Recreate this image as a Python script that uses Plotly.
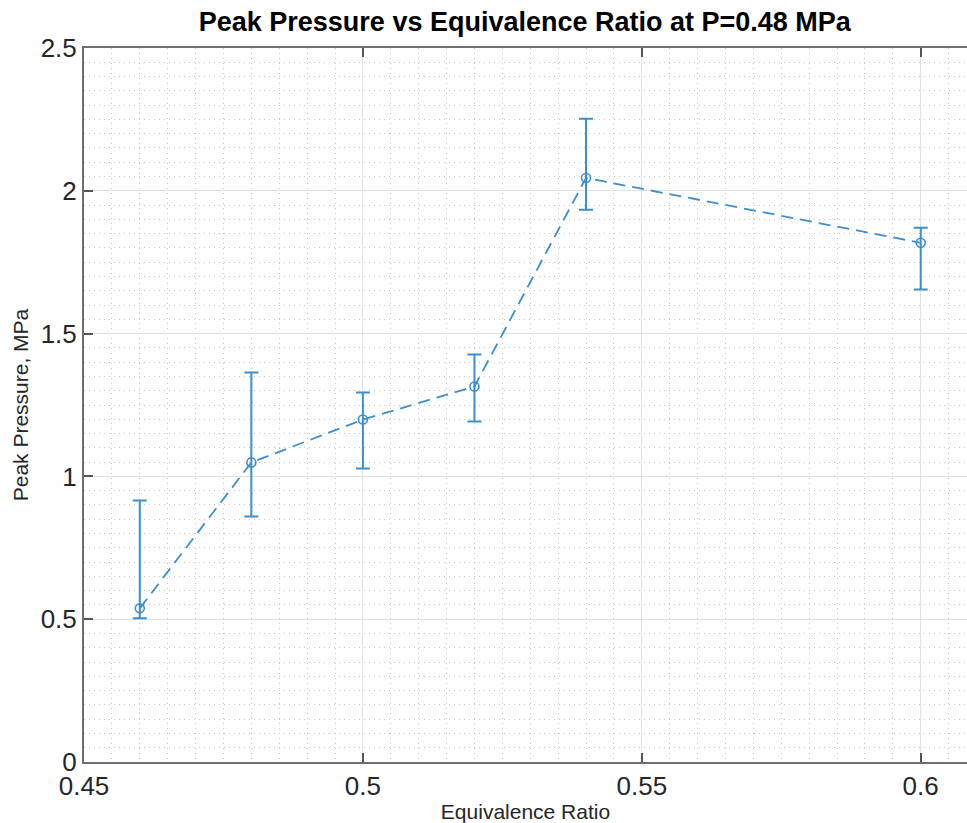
import plotly.graph_objects as go

phi = [0.46, 0.48, 0.50, 0.52, 0.54, 0.60]
peak = [0.538, 1.049, 1.199, 1.315, 2.045, 1.818]
err_plus = [0.378, 0.315, 0.095, 0.112, 0.207, 0.053]
err_minus = [0.035, 0.189, 0.171, 0.123, 0.111, 0.164]

color = "#3a8fd0"

fig = go.Figure()
fig.add_trace(go.Scatter(
    x=phi, y=peak, mode="lines+markers",
    line=dict(color=color, width=1.8, dash="12px,7px"),
    marker=dict(symbol="circle-open", size=9, color=color, line=dict(width=1.6, color=color)),
    error_y=dict(type="data", symmetric=False, array=err_plus, arrayminus=err_minus,
                 color=color, thickness=2, width=7),
    showlegend=False,
))

axis_common = dict(
    showline=True, linecolor="#6e6e6e", linewidth=2,
    ticks="inside", ticklen=9, tickwidth=1.5, tickcolor="#555555",
    showgrid=True, gridcolor="#e0e0e0", gridwidth=1,
    zeroline=False,
    tickfont=dict(family="Liberation Sans, Arial, sans-serif", size=26, color="#262626"),
)

fig.update_xaxes(
    range=[0.45, 0.6083], dtick=0.05, tick0=0.45,
    mirror="ticks",
    minor=dict(dtick=0.005, tick0=0.45, showgrid=True, griddash="1px,4px", gridcolor="#c6c6c6",
               gridwidth=1),
    title=dict(text="Equivalence Ratio", standoff=4,
               font=dict(family="Liberation Sans, Arial, sans-serif", size=21, color="#262626")),
    **axis_common,
)
fig.update_yaxes(
    range=[0, 2.5], dtick=0.5, tick0=0,
    mirror=False,
    minor=dict(dtick=0.05, tick0=0, showgrid=True, griddash="1px,4px", gridcolor="#c6c6c6",
               gridwidth=1),
    title=dict(text="Peak Pressure, MPa", standoff=6,
               font=dict(family="Liberation Sans, Arial, sans-serif", size=21, color="#262626")),
    **axis_common,
)

fig.update_layout(
    width=967, height=823,
    margin=dict(l=84, r=0, t=48, b=61),
    paper_bgcolor="white", plot_bgcolor="white",
    title=dict(text="<b>Peak Pressure vs Equivalence Ratio at P=0.48 MPa</b>",
               x=0.5427, xanchor="center", y=0.985, yanchor="top",
               font=dict(family="Liberation Sans, Arial, sans-serif", size=27, color="#000000")),
)

fig.write_html("out.html")
